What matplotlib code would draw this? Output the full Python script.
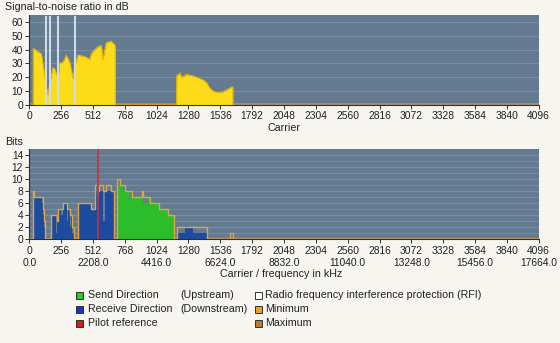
import matplotlib
matplotlib.use("Agg")
import matplotlib.pyplot as plt
from matplotlib.patches import Rectangle

# ---------------- data ----------------
snr_carrier = [31, 32, 60, 97, 118, 137, 150, 164, 190, 204, 231, 244, 271, 298, 325, 352, 365,
               391, 445, 485, 499, 525, 552, 579, 592, 619, 659, 680, 691, 692,
               1184, 1185, 1212, 1225, 1265, 1319, 1373, 1399, 1426, 1453, 1480, 1507, 1547,
               1587, 1628, 1636, 1637]
snr_db = [0, 41, 39, 37, 25, 13, 7, 15, 27, 26, 19, 30, 31, 36, 31, 19, 28,
          36, 35, 33, 37, 40, 42, 43, 33, 45, 46, 44, 43, 0,
          0, 21, 23, 20, 22, 21, 19, 18, 16, 12, 10, 9, 9,
          11, 13, 13, 0]
rfi_carriers = [132, 165, 231, 365]

bits_carrier = [0, 32, 40, 100, 110, 118, 124, 177, 212, 224, 232, 258, 271, 300, 310, 325,
                335, 345, 360, 391, 499, 530, 545, 560, 592, 605, 619, 645, 660, 681,
                702, 716, 729, 756, 769, 809, 823, 903, 917, 930, 957, 970, 1040, 1117, 1163,
                1190, 1252, 1320, 1426, 1615, 1640, 4096]
down_bits = [0, 7, 7, 6, 4, 2, 0, 4, 1, 3, 5, 4, 6, 3, 5, 2,
             4, 1, 0, 6, 5, 9, 7, 8, 3, 8, 8, 8, 8, 0,
             0, 0, 0, 0, 0, 0, 0, 0, 0, 0, 0, 0, 0, 0, 0,
             1, 2, 1, 0, 0, 0, 0]
up_bits = [0, 0, 0, 0, 0, 0, 0, 0, 0, 0, 0, 0, 0, 0, 0, 0,
           0, 0, 0, 0, 0, 0, 0, 0, 0, 0, 0, 0, 0, 0,
           10, 9, 9, 8, 8, 7, 7, 8, 6, 6, 7, 6, 5, 4, 0,
           0, 0, 0, 0, 0, 0, 0]
max_bits = [0, 8, 7, 7, 5, 3, 0, 4, 4, 3, 5, 5, 6, 5, 5, 4,
            4, 2, 0, 6, 5, 9, 8, 9, 8, 8, 9, 9, 8, 0,
            10, 10, 9, 9, 8, 8, 7, 8, 7, 7, 7, 6, 5, 4, 0,
            2, 2, 2, 0, 1, 0, 0]
pilot_carrier = 552

carrier_ticks = list(range(0, 4097, 256))
freq_labels = ["0.0", "2208.0", "4416.0", "6624.0", "8832.0", "11040.0",
               "13248.0", "15456.0", "17664.0"]

# ---------------- style ----------------
FS = 7.7          # titles / legend
TFS = 7.4         # tick labels
BG = "#f7f5ef"
AXBG = "#637a90"
GRID = "#788ea3"
TXT = "#202020"
plt.rcParams['font.family'] = ['Liberation Sans', 'DejaVu Sans']
TICKFAM = ['Liberation Sans Narrow', 'Liberation Sans', 'DejaVu Sans']

fig = plt.figure(figsize=(5.6, 3.43), dpi=100, facecolor=BG)
W, H = 560, 343

def axes_px(x0, y0, x1, y1):
    return fig.add_axes([x0 / W, 1 - y1 / H, (x1 - x0) / W, (y1 - y0) / H])

ax1 = axes_px(29.3, 15, 538.7, 105)
ax2 = axes_px(29.3, 149, 538.7, 239.3)

for ax in (ax1, ax2):
    ax.set_facecolor(AXBG)
    ax.set_xlim(0, 4096)
    ax.set_xticks(carrier_ticks)
    for s in ("top", "right"):
        ax.spines[s].set_visible(False)
    for s in ("left", "bottom"):
        ax.spines[s].set_color("#303030")
        ax.spines[s].set_linewidth(0.8)
    ax.tick_params(direction="out", length=3, width=0.7, colors="#303030",
                   labelcolor=TXT, labelsize=TFS, pad=1.5)
    ax.set_axisbelow(True)

# ---- top: SNR ----
ax1.set_ylim(0, 65)
ax1.set_yticks(range(0, 61, 10))
for v in range(10, 61, 10):
    ax1.axhline(v, color=GRID, lw=0.8, zorder=0.5)
ax1.fill_between(snr_carrier, snr_db, 0, color="#fcdc18", lw=0, zorder=2)
ax1.plot(snr_carrier, snr_db, color="#e8b400", lw=0.8, zorder=2.5)
for c in rfi_carriers:
    ax1.axvline(c, ymin=0, ymax=0.975, color="#cfdbe6", lw=1.5, zorder=3)
ax1.axhline(0.4, color="#b3926a", lw=1.2, zorder=1.5)
ax1.set_xticklabels([str(c) for c in carrier_ticks], family=TICKFAM)
ax1.set_yticklabels([str(v) for v in range(0, 61, 10)], family=TICKFAM)

# ---- bottom: bits ----
ax2.set_ylim(0, 15)
ax2.set_yticks(range(0, 15, 2))
for v in range(1, 15):
    ax2.axhline(v, color=GRID, lw=0.6 if v % 2 else 0.9, zorder=0.5)
ax2.fill_between(bits_carrier, down_bits, 0, step="post", color="#1d4b9f", lw=0, zorder=2)
ax2.fill_between(bits_carrier, up_bits, 0, step="post", color="#2cbd2a", lw=0, zorder=2)
ax2.step(bits_carrier, max_bits, where="post", color="#e2a43e", lw=1.0, zorder=3)
ax2.axvline(pilot_carrier, ymin=0, ymax=0.985, color="#c8303a", lw=1.2, zorder=4)
ax2.axhline(0.15, color="#b3926a", lw=1.0, zorder=1.5)
labels2 = []
for i, c in enumerate(carrier_ticks):
    if i % 2 == 0:
        labels2.append(f"{c}\n{freq_labels[i // 2]}")
    else:
        labels2.append(f"{c}\n")
ax2.set_xticklabels(labels2, linespacing=1.35, family=TICKFAM)
ax2.set_yticklabels([str(v) for v in range(0, 15, 2)], family=TICKFAM)

# ---- texts ----
fig.text(5 / W, 1 - 7 / H, "Signal-to-noise ratio in dB", ha="left", va="center", color=TXT, fontsize=FS)
fig.text(284 / W, 1 - 128 / H, "Carrier", ha="center", va="center", color=TXT, fontsize=FS)
fig.text(5 / W, 1 - 142 / H, "Bits", ha="left", va="center", color=TXT, fontsize=FS)
fig.text(281 / W, 1 - 274 / H, "Carrier / frequency in kHz", ha="center", va="center", color=TXT, fontsize=FS)

# ---- legend ----
leg_rows = [295, 309, 323]
legend_left = [("Send Direction", "(Upstream)", "#22cc22"),
               ("Receive Direction", "(Downstream)", "#1238c8"),
               ("Pilot reference", "", "#d01c1c")]
legend_right = [("Radio frequency interference protection (RFI)", "#ffffff"),
                ("Minimum", "#f0a020"),
                ("Maximum", "#b87c30")]

def square(xc, yc, color):
    s = 7
    fig.add_artist(Rectangle(((xc - s / 2) / W, 1 - (yc + s / 2) / H), s / W, s / H,
                             transform=fig.transFigure, facecolor=color,
                             edgecolor="#303030", lw=0.7))

for (lab, sub, col), yr in zip(legend_left, leg_rows):
    square(79, yr, col)
    fig.text(88 / W, 1 - yr / H, lab, ha="left", va="center", color=TXT, fontsize=FS)
    if sub:
        fig.text(180 / W, 1 - yr / H, sub, ha="left", va="center", color=TXT, fontsize=FS)
for (lab, col), yr in zip(legend_right, leg_rows):
    square(258, yr, col)
    fig.text(265 / W, 1 - yr / H, lab, ha="left", va="center", color=TXT, fontsize=FS)

fig.savefig("out.png", dpi=100, facecolor=BG)
